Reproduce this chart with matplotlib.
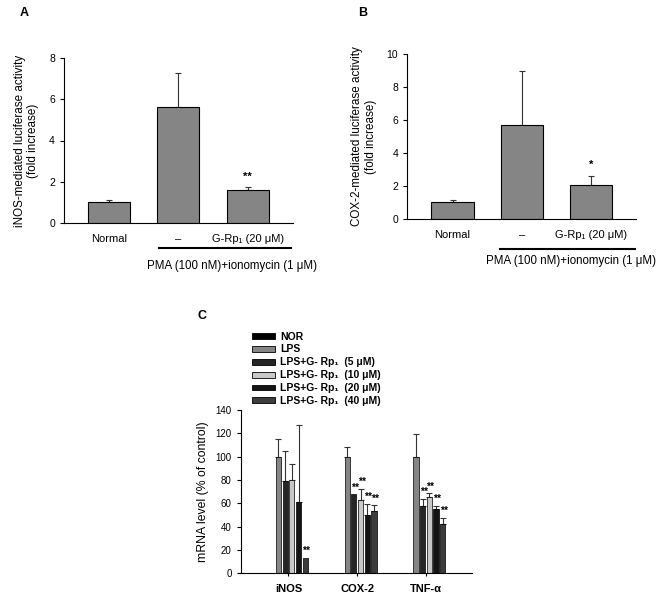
import numpy as np
import matplotlib
matplotlib.use('Agg')
import matplotlib.pyplot as plt
from matplotlib.patches import Patch
import matplotlib.transforms as mtransforms

plt.rcParams['font.family'] = ['Liberation Sans', 'DejaVu Sans']

# panel A / B data (fold increase)
ab_labels = ['Normal', '\u2013', 'G-Rp\u2081 (20 \u03bcM)']
inos_luc = [1.0, 5.65, 1.6]
inos_luc_err = [0.1, 1.62, 0.12]
cox_luc = [1.0, 5.7, 2.05]
cox_luc_err = [0.15, 3.3, 0.55]
treat_label = 'PMA (100 nM)+ionomycin (1 \u03bcM)'

# panel C data (% of control)
genes = ['iNOS', 'COX-2', 'TNF-\u03b1']
groups = ['NOR', 'LPS', 'LPS+G- Rp\u2081  (5 \u03bcM)', 'LPS+G- Rp\u2081  (10 \u03bcM)',
          'LPS+G- Rp\u2081  (20 \u03bcM)', 'LPS+G- Rp\u2081  (40 \u03bcM)']
colors = ['#000000', '#858585', '#262626', '#c8c8c8', '#141414', '#3c3c3c']
mrna = [
    [0, 0, 0],
    [100, 100, 100],
    [79.5, 67.7, 57.7],
    [80, 62.9, 65.1],
    [61.4, 49.7, 54.9],
    [13.4, 53.1, 42.3],
]
mrna_err = [
    [0, 0, 0],
    [14.9, 8.6, 19.1],
    [25.1, 0, 6.0],
    [13.7, 9.7, 3.5],
    [65.6, 9.7, 2.8],
    [0, 5.2, 5.1],
]
# significance marks: (group index, gene index, mark)
sig = [(5, 0, '**'), (2, 1, '**'), (3, 1, '**'), (4, 1, '**'), (5, 1, '**'),
       (2, 2, '**'), (3, 2, '**'), (4, 2, '**'), (5, 2, '**')]

fig = plt.figure(figsize=(6.61, 6.03), dpi=100)
W, H = 661.0, 603.0


def ax_px(left, right, top, bottom):
    return fig.add_axes([left / W, 1 - bottom / H, (right - left) / W, (bottom - top) / H])


def luc_panel(ax, vals, errs, ymax, step, ylab, mark, line_x0, line_y, text_x, text_y):
    x = np.arange(len(vals))
    ax.bar(x, vals, width=0.607, color='#858585', edgecolor='black', linewidth=0.8, zorder=2)
    ax.errorbar(x, vals, yerr=[np.zeros(len(errs)), errs], fmt='none', ecolor='#333333',
                elinewidth=0.8, capsize=2.5, capthick=0.8, zorder=1)
    ax.set_xlim(-0.653, 2.65)
    ax.set_ylim(0, ymax)
    ax.set_yticks(np.arange(0, ymax + 0.1, step))
    ax.set_xticks(x)
    ax.set_xticklabels(ab_labels, fontsize=8)
    ax.tick_params(axis='x', length=0, pad=8)
    ax.tick_params(axis='y', length=3, labelsize=7.5, width=0.8)
    for s in ['top', 'right']:
        ax.spines[s].set_visible(False)
    for s in ['left', 'bottom']:
        ax.spines[s].set_linewidth(0.8)
    ax.set_ylabel(ylab, fontsize=8.4, labelpad=7)
    ax.text(2, vals[2] + errs[2] + ymax * 0.035, mark, ha='center', va='bottom',
            fontsize=8, fontweight='bold')
    tr = mtransforms.blended_transform_factory(ax.transData, ax.transAxes)
    ax.plot([line_x0, 2.63], [line_y, line_y], color='black', lw=1.5,
            transform=tr, clip_on=False)
    ax.text(text_x, text_y, treat_label, transform=tr, ha='center', va='center', fontsize=8.3)


axA = ax_px(64, 292.7, 58.3, 222.7)
luc_panel(axA, inos_luc, inos_luc_err, 8, 2,
          'iNOS-mediated luciferase activity\n(fold increase)', '**',
          0.72, -0.156, 1.78, -0.266)
axB = ax_px(407.3, 636, 54.3, 218.7)
luc_panel(axB, cox_luc, cox_luc_err, 10, 2,
          'COX-2-mediated luciferase activity\n(fold increase)', '*',
          0.686, -0.185, 1.71, -0.258)

fig.text(20 / W, 1 - 13 / H, 'A', fontsize=9, fontweight='bold', ha='left', va='center')
fig.text(358 / W, 1 - 13 / H, 'B', fontsize=9, fontweight='bold', ha='left', va='center')
fig.text(197 / W, 1 - 316 / H, 'C', fontsize=9, fontweight='bold', ha='left', va='center')

# panel C
axC = ax_px(240.7, 471.7, 410, 573.3)
xg = np.arange(len(genes))
slot = 0.0975
bw = 0.076
for i in range(len(groups)):
    xpos = xg + (i - 2.5) * slot
    axC.bar(xpos, mrna[i], width=bw, color=colors[i], edgecolor='black', linewidth=0.5, zorder=2)
    errs = np.array(mrna_err[i])
    has = errs > 0
    if has.any():
        axC.errorbar(xpos[has], np.array(mrna[i])[has], yerr=[np.zeros(has.sum()), errs[has]],
                     fmt='none', ecolor='#333333', elinewidth=0.8, capsize=2, capthick=0.8,
                     zorder=1)
for gi, ge, m in sig:
    xpos = xg[ge] + (gi - 2.5) * slot
    top = mrna[gi][ge] + mrna_err[gi][ge]
    axC.text(xpos + 0.015, top + 1.5, m, ha='center', va='bottom', fontsize=7.5,
             fontweight='bold')
axC.set_xlim(-0.695, 2.665)
axC.set_ylim(0, 140)
axC.set_yticks(np.arange(0, 141, 20))
axC.set_xticks(xg)
axC.set_xticklabels(genes, fontsize=8, fontweight='bold')
axC.tick_params(axis='x', length=2, pad=6, width=0.8)
axC.tick_params(axis='y', length=3, labelsize=7, width=0.8)
for s in ['top', 'right']:
    axC.spines[s].set_visible(False)
for s in ['left', 'bottom']:
    axC.spines[s].set_linewidth(0.8)
axC.set_ylabel('mRNA level (% of control)', fontsize=8.8, labelpad=5)

handles = [Patch(facecolor=c, edgecolor='black', linewidth=0.6) for c in colors]
leg = fig.legend(handles, groups, loc='upper left',
                 bbox_to_anchor=(251.7 / W, 1 - 331.5 / H), bbox_transform=fig.transFigure,
                 frameon=False, borderpad=0, borderaxespad=0,
                 handlelength=2.2, handleheight=0.5, handletextpad=0.5, labelspacing=0.28,
                 prop={'weight': 'bold', 'size': 7.5})

fig.savefig('out.png', dpi=100)
